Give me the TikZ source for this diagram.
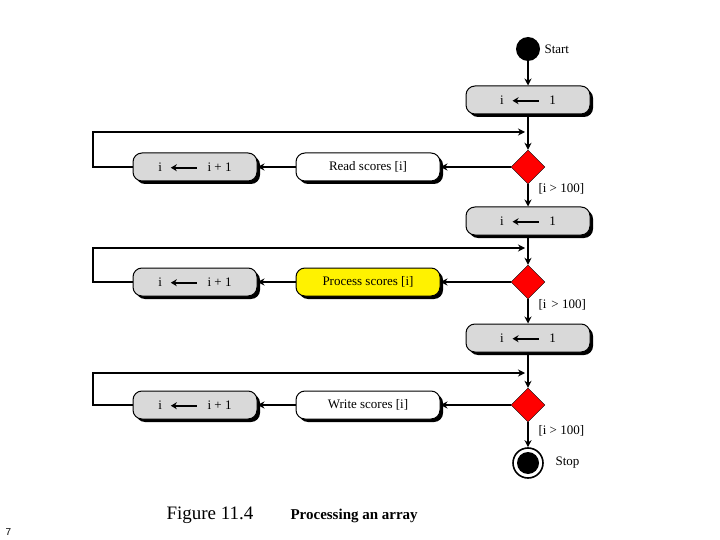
\documentclass[tikz,border=0pt]{standalone}
\usepackage{fontspec}
\setmainfont{Liberation Serif}
\newfontfamily\sansf{Liberation Sans}
\usetikzlibrary{shapes.geometric,shadows,arrows.meta}
\begin{document}
\begin{tikzpicture}[x=1pt,y=-1pt,
  box/.style={draw,line width=1pt,rounded corners=9pt,minimum width=124pt,minimum height=28pt,inner sep=0pt,font=\fontsize{13}{14}\selectfont,
    drop shadow={shadow xshift=3pt,shadow yshift=-3pt,fill=black,opacity=1}},
  gbox/.style={box,fill=gray!30},
  wbox/.style={box,fill=white,minimum width=144pt},
  dia/.style={diamond,draw,fill=red,minimum width=34pt,minimum height=34pt,inner sep=0pt},
  con/.style={line width=1.6pt,-{Stealth[length=7pt,width=7pt]}},
  ln/.style={line width=1.6pt},
  lab/.style={font=\fontsize{13}{14}\selectfont,anchor=west}]
\useasboundingbox (0,0) rectangle (720,540);
\newcommand{\larr}{\tikz[baseline=-0.6ex]\draw[line width=1.6pt,-{Stealth[length=6pt,width=7pt]}](26pt,0)--(0,0);}
\node[circle,fill=black,minimum size=24pt,inner sep=0pt] (start) at (528,49) {};
\node[lab] (startl) at (541,49) {Start};
\node[gbox] (b1) at (528,100) {i\hspace{8pt}\larr\hspace{10pt}1};
\node[dia] (d1) at (528,167) {};
\node[wbox] (r1) at (368,167) {Read scores [i]};
\node[gbox] (c1) at (195,167) {i\hspace{8pt}\larr\hspace{10pt}i + 1};
\node[gbox] (b2) at (528,221) {i\hspace{8pt}\larr\hspace{10pt}1};
\node[dia] (d2) at (528,282) {};
\node[wbox,fill=yellow] (r2) at (368,282) {Process scores [i]};
\node[gbox] (c2) at (195,282) {i\hspace{8pt}\larr\hspace{10pt}i + 1};
\node[gbox] (b3) at (528,338) {i\hspace{8pt}\larr\hspace{10pt}1};
\node[dia] (d3) at (528,405) {};
\node[wbox] (r3) at (368,405) {Write scores [i]};
\node[gbox] (c3) at (195,405) {i\hspace{8pt}\larr\hspace{10pt}i + 1};
\node[circle,draw,line width=1.6pt,fill=white,minimum size=30pt,inner sep=0pt] (stop) at (528,463) {};
\node[circle,fill=black,minimum size=22pt,inner sep=0pt] (stopin) at (528,463) {};
\node[lab] (stopl) at (552,463) {Stop};
\node[lab] (g1) at (535,189) {[i > 100]};
\node[lab] (g2) at (535,305) {[i\hspace{5pt}> 100]};
\node[lab] (g3) at (535,431) {[i > 100]};
\coordinate (m1) at (528,132);
\coordinate (m2) at (528,248);
\coordinate (m3) at (528,373);
\draw[con] (start) -- (b1);
\draw[con] (b1) -- (d1);
\draw[con] (d1) -- (r1);
\draw[con] (r1) -- (c1);
\draw[con] (c1.west) -- (93,167) -- (93,132) -- ([xshift=-3pt]m1);
\draw[con] (d1) -- (b2);
\draw[con] (b2) -- (d2);
\draw[con] (d2) -- (r2);
\draw[con] (r2) -- (c2);
\draw[con] (c2.west) -- (93,282) -- (93,248) -- ([xshift=-3pt]m2);
\draw[con] (d2) -- (b3);
\draw[con] (b3) -- (d3);
\draw[con] (d3) -- (r3);
\draw[con] (r3) -- (c3);
\draw[con] (c3.west) -- (93,405) -- (93,373) -- ([xshift=-3pt]m3);
\draw[con] (d3) -- (stop);
\node[anchor=base west,font=\fontsize{19}{20}\selectfont] (cap1) at (163,519) {Figure 11.4};
\node[anchor=base west,font=\bfseries\fontsize{15}{16}\selectfont] (cap2) at (287,519) {Processing an array};
\node[anchor=base west,font=\sansf\fontsize{10}{11}\selectfont] (pg) at (2,535) {7};
\end{tikzpicture}
\end{document}
